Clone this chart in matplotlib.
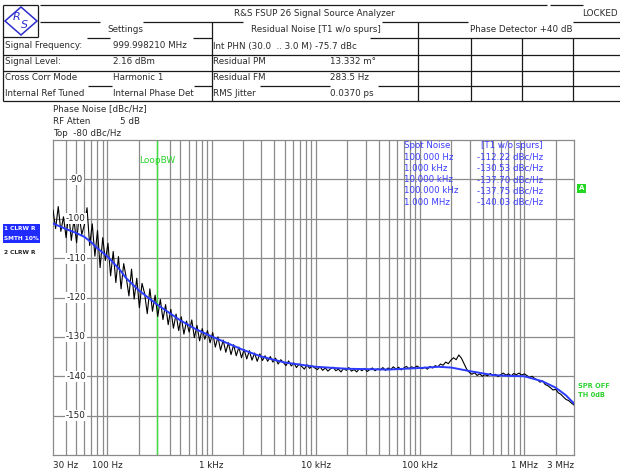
import numpy as np
import matplotlib
matplotlib.use('Agg')
import matplotlib.pyplot as plt
from matplotlib.patches import Rectangle, Polygon
import matplotlib.transforms as mtransforms

plt.rcParams['font.family'] = ['DejaVu Sans']

# ---------------- data ----------------
smooth_freq = [30, 40, 50, 60, 70, 80, 100, 130, 150, 200, 300, 500, 700,
               1e3, 2e3, 3e3, 5e3, 1e4, 2e4, 5e4, 1e5, 1.5e5, 2e5, 3e5,
               5e5, 7e5, 1e6, 1.5e6, 2e6, 2.5e6, 3e6]
smooth_db = [-101.2, -102.6, -103.6, -104.6, -106.0, -107.5, -109.6, -112.8,
             -115.0, -118.2, -121.8, -125.8, -128.0, -129.9, -133.3, -135.0,
             -136.5, -137.6, -138.1, -138.3, -137.9, -137.6, -137.8, -138.7,
             -139.7, -139.9, -140.0, -141.3, -142.9, -144.8, -146.9]

raw_db = [
    # 30 Hz .. 100 Hz
    -97.8, -102.5, -96.9, -103.2, -99.5, -104.8, -98.7, -105.5, -100.2, -106.1,
    -99.0, -104.0, -101.5, -97.2, -106.8, -101.3, -109.5, -103.0, -112.4, -104.8,
    -110.6,
    # 100 Hz .. 316 Hz
    -106.2, -114.5, -108.3, -116.2, -109.6, -117.8, -111.4, -115.0, -119.6, -112.8,
    -120.4, -115.1, -122.6, -116.4, -119.0, -124.1, -117.8, -123.5, -119.4, -124.8,
    # 316 Hz .. 1 kHz
    -120.5, -125.6, -121.8, -126.9, -123.0, -127.8, -124.2, -128.4, -124.9, -129.3,
    -126.0, -128.8, -125.7, -130.2, -127.1, -131.0, -127.9, -130.6, -128.4, -131.5,
    # 1 kHz .. 10 kHz
    -128.9, -132.6, -130.0, -133.4, -130.8, -133.9, -131.5, -134.5, -132.0, -134.8,
    -132.6, -135.3, -133.2, -135.6, -133.5, -135.9, -134.1, -136.2, -134.3, -136.0,
    -134.8, -136.2, -135.0, -136.4, -135.4, -136.9, -135.8, -136.5, -137.3, -136.1,
    -137.4, -136.6, -137.8, -136.9, -137.5, -138.2, -137.1, -138.0, -137.4, -137.9,
    # 10 kHz .. 100 kHz
    -138.3, -137.6, -138.5, -137.9, -138.7, -138.1, -137.7, -138.6, -138.2, -138.9,
    -138.0, -138.5, -137.8, -138.7, -138.3, -138.9, -138.1, -138.6, -138.0, -138.8,
    -138.3, -137.9, -138.6, -138.1, -138.4, -137.8, -138.5, -137.9, -138.3, -137.6,
    -138.2, -137.7, -138.4, -137.9, -137.5, -138.1, -137.6, -137.9, -137.4, -137.8,
    # 100 kHz .. 1 MHz
    -138.1, -137.7, -138.2, -137.5, -137.9, -137.3, -137.6, -136.9, -137.2, -136.4,
    -136.8, -135.9, -135.3, -135.8, -134.6, -135.4, -136.8, -138.2, -139.0, -139.5,
    -139.1, -139.8, -139.4, -140.0, -139.6, -139.9, -139.3, -139.8, -139.5, -140.1,
    -139.6, -139.2, -139.7, -139.4, -139.9, -139.3, -139.6, -139.2, -139.7, -139.4,
    # 1 MHz .. 3 MHz
    -139.8, -140.3, -140.0, -140.6, -140.9, -141.5, -141.2, -142.1, -142.4, -142.9,
    -143.5, -143.3, -144.2, -144.6, -145.3, -145.9, -146.2, -146.8, -147.3,
]
raw_freq = np.geomspace(30, 3e6, len(raw_db))

xtick_freqs = [30, 100, 1e3, 1e4, 1e5, 1e6, 3e6]
xtick_labels = ['30 Hz', '100 Hz', '1 kHz', '10 kHz', '100 kHz', '1 MHz', '3 MHz']
ytick_vals = [-90, -100, -110, -120, -130, -140, -150]
loop_bw = 300

spot_labels = ['100.000 Hz', '1.000 kHz', '10.000 kHz', '100.000 kHz', '1.000 MHz']
spot_values = [-112.22, -130.53, -137.70, -137.75, -140.03]

settings_labels = ['Signal Frequency:', 'Signal Level:', 'Cross Corr Mode', 'Internal Ref Tuned']
settings_values = ['999.998210 MHz', '2.16 dBm', 'Harmonic 1', 'Internal Phase Det']
resid_labels = ['Int PHN (30.0  .. 3.0 M) -75.7 dBc', 'Residual PM', 'Residual FM', 'RMS Jitter']
resid_values = ['', '13.332 m°', '283.5 Hz', '0.0370 ps']

# ---------------- figure ----------------
W, H = 620, 471
fig = plt.figure(figsize=(W / 100, H / 100), dpi=100)
fig.patch.set_facecolor('white')

L, R, T, B = 53, 574, 140, 455
ax = fig.add_axes([L / W, 1 - B / H, (R - L) / W, (B - T) / H])
ax.set_xscale('log')
ax.set_xlim(30, 3e6)
ax.set_ylim(-160, -80)
gridc = '#8a8a8a'
minor = []
for dec in [10, 100, 1000, 1e4, 1e5, 1e6]:
    for m in range(1, 10):
        f = m * dec
        if 30 < f < 3e6:
            minor.append(f)
for f in minor:
    ax.axvline(f, color=gridc, lw=0.9, zorder=1)
for v in ytick_vals:
    ax.axhline(v, color=gridc, lw=0.9, zorder=1)
ax.set_xticks([])
ax.set_yticks([])
ax.minorticks_off()
for sp in ax.spines.values():
    sp.set_color(gridc)
    sp.set_linewidth(0.9)

ax.axvline(loop_bw, color='#3ee03e', lw=1.0, zorder=2)
ax.text(loop_bw, -85.3, 'LoopBW', color='#2ed22e', fontsize=6.5,
        ha='center', va='center', zorder=3)

ax.plot(raw_freq, raw_db, color='black', lw=0.8, zorder=4)
ax.plot(smooth_freq, smooth_db, color='#2b3bff', lw=1.4, zorder=5)

trY = mtransforms.blended_transform_factory(ax.transAxes, ax.transData)
for v in ytick_vals:
    ax.text((76 - L) / (R - L), v, str(v), transform=trY, fontsize=6.3,
            color='#222222', ha='center', va='center', zorder=6,
            bbox=dict(fc='white', ec='none', pad=0.6))

trX = mtransforms.blended_transform_factory(ax.transData, ax.transAxes)
for f, lab in zip(xtick_freqs, xtick_labels):
    ha = 'center'
    if f == xtick_freqs[0]:
        ha = 'left'
    elif f == xtick_freqs[-1]:
        ha = 'right'
    ax.text(f, (B - 465) / (B - T), lab, transform=trX, fontsize=6.3,
            color='#222222', ha=ha, va='center', clip_on=False)

# ---------------- overlay (pixel coordinates) ----------------
ov = fig.add_axes([0, 0, 1, 1])
ov.set_xlim(0, W)
ov.set_ylim(H, 0)
ov.axis('off')
ov.patch.set_alpha(0)
ov.set_zorder(10)

fs = 6.3
tc = '#2a2a2a'

def txt(x, y, s, ha='left', **kw):
    kw.setdefault('fontsize', fs)
    kw.setdefault('color', tc)
    ov.text(x, y, s, ha=ha, va='center', **kw)

def hl(y, segs, lw=0.9):
    for a, b in segs:
        ov.plot([a, b], [y, y], color='#1a1a1a', lw=lw, solid_capstyle='butt')

def vl(x, y0, y1, lw=0.9):
    ov.plot([x, x], [y0, y1], color='#1a1a1a', lw=lw, solid_capstyle='butt')

# header lines
hl(5, [(3, 38), (40, 547), (550, 583)])
hl(37, [(3, 38)])
hl(22, [(40, 100), (143, 243), (382, 468), (573, 620)])
hl(38, [(87, 110), (193, 212), (370, 620)])
hl(55, [(3, 620)])
hl(71, [(3, 620)])
hl(86, [(88, 112), (194, 212), (260, 330), (378, 620)])
hl(101, [(3, 620)])
vl(3, 5, 101)
vl(38, 5, 37)
vl(212, 22, 101)
vl(418, 22, 101)
for x in [471, 522, 573]:
    vl(x, 38, 101)

# logo
ov.add_patch(Polygon([(21, 7), (37, 21), (21, 35), (5, 21)], closed=True,
                     fill=False, ec='#2e2ecc', lw=1.1))
txt(17, 17.5, 'R', color='#2e2ecc', fontsize=8, ha='center', style='italic')
txt(24.5, 25.5, 'S', color='#2e2ecc', fontsize=8, ha='center', style='italic')

txt(314, 13, 'R&S FSUP 26 Signal Source Analyzer', ha='center')
txt(618, 13, 'LOCKED', ha='right')
txt(125, 30, 'Settings', ha='center')
txt(316, 30, 'Residual Noise [T1 w/o spurs]', ha='center')
txt(521, 30, 'Phase Detector +40 dB', ha='center')

row_y = [46, 62, 78, 93]
for i, y in enumerate(row_y):
    txt(5, y, settings_labels[i])
    txt(113, y, settings_values[i])
    txt(213, y, resid_labels[i])
    if resid_values[i]:
        txt(330, y, resid_values[i])

txt(53, 109, 'Phase Noise [dBc/Hz]')
txt(53, 122, 'RF Atten')
txt(120, 122, '5 dB')
txt(53, 134, 'Top  -80 dBc/Hz')

# left trace legend
ov.add_patch(Rectangle((3, 224), 37, 19, fc='#1f2bff', ec='none'))
txt(4.5, 229, '1 CLRW R', color='white', fontsize=4.2, fontweight='bold')
txt(4.5, 238, 'SMTH 10%', color='white', fontsize=4.2, fontweight='bold')
txt(4.5, 252, '2 CLRW R', color='#222222', fontsize=4.2, fontweight='bold')

# spot noise table
bc = '#3c3cff'
txt(404, 146, 'Spot Noise', color=bc, fontsize=6.2)
txt(543, 146, '[T1 w/o spurs]', color=bc, fontsize=6.2, ha='right')
for i, (lab, val) in enumerate(zip(spot_labels, spot_values)):
    y = 157 + i * 11.3
    txt(404, y, lab, color=bc, fontsize=6.2)
    txt(543, y, f'{val:.2f} dBc/Hz', color=bc, fontsize=6.2, ha='right')

# marker A and status text
ov.add_patch(Rectangle((577, 184), 9, 9, fc='#22d822', ec='none'))
txt(581.5, 188.5, 'A', color='white', fontsize=5, ha='center', fontweight='bold')
txt(578, 386, 'SPR OFF', color='#2ed22e', fontsize=4.8, fontweight='bold')
txt(578, 395, 'TH 0dB', color='#2ed22e', fontsize=4.8, fontweight='bold')

fig.savefig('out.png', dpi=100)
